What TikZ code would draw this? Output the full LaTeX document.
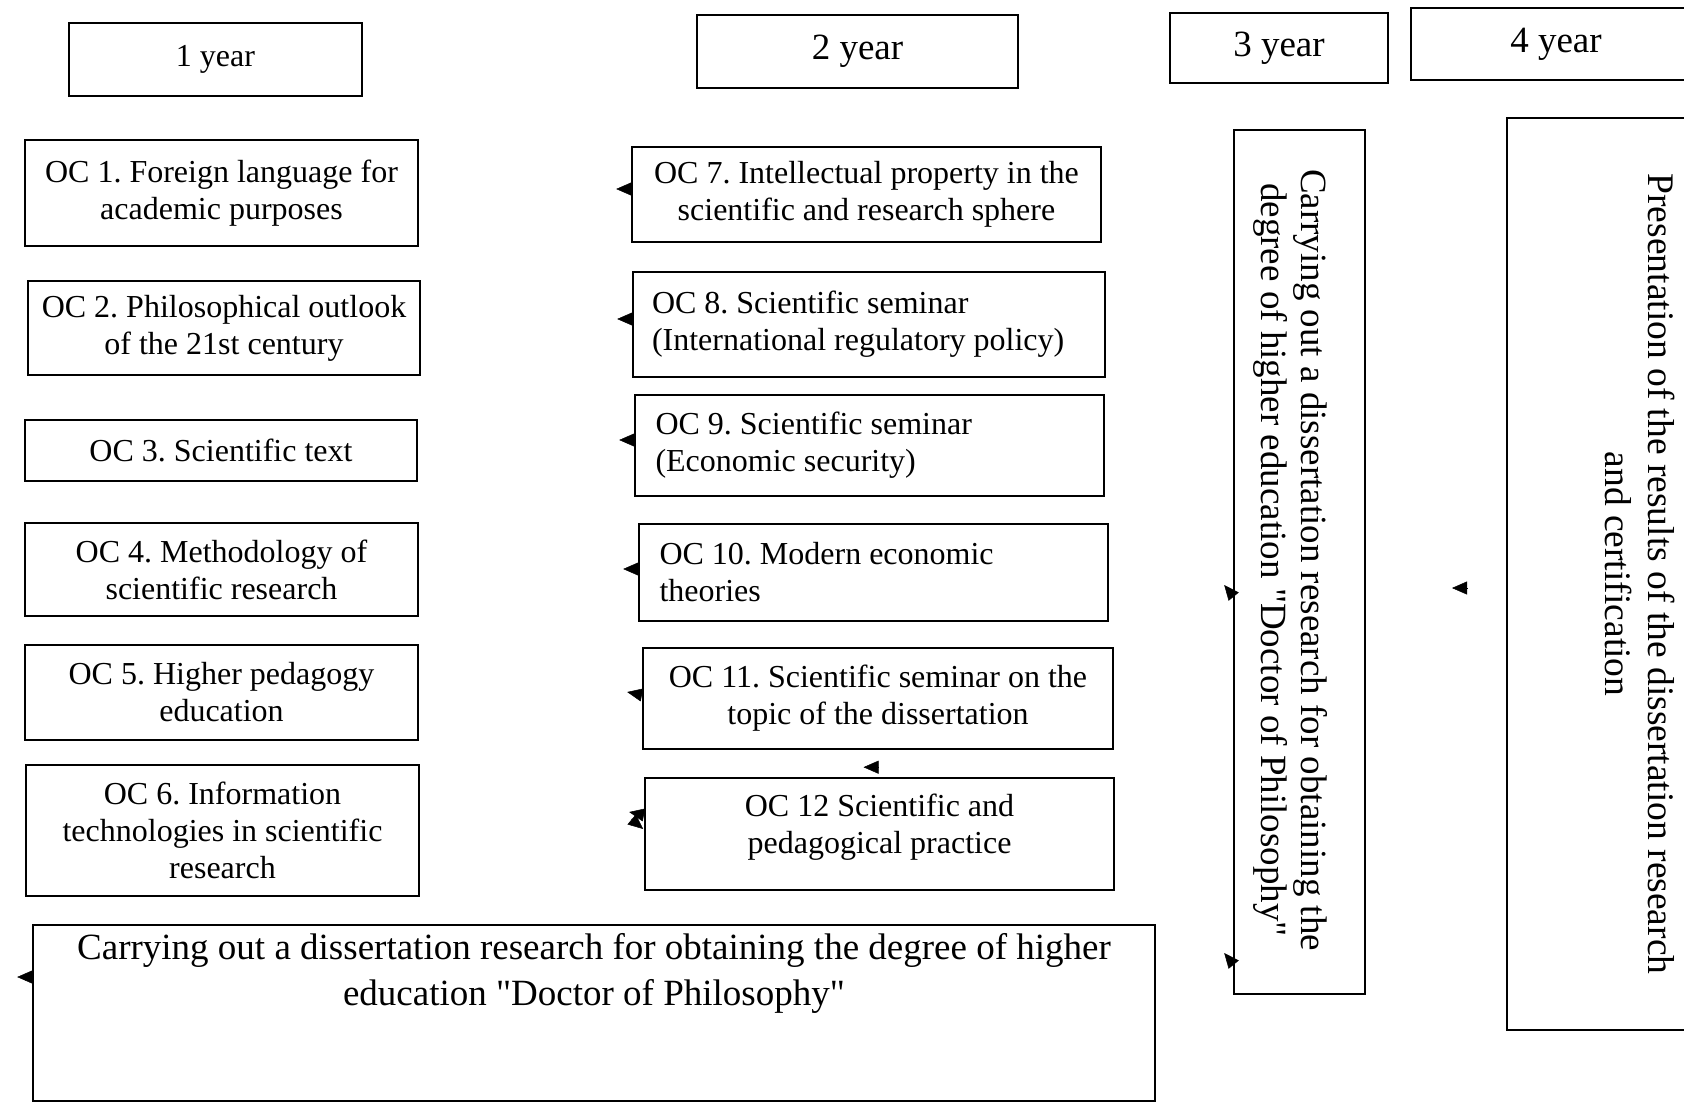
\documentclass[tikz,border=0pt]{standalone}
\usepackage{fontspec}
\setmainfont{Liberation Serif}
\usetikzlibrary{arrows.meta,calc}
\begin{document}
\frenchspacing
\begin{tikzpicture}[x=1pt,y=-1pt,
  box/.style={draw, line width=1.6pt, inner sep=2pt, align=center},
  octxt/.style={font=\fontsize{32}{37}\selectfont},
  yeartxt/.style={font=\fontsize{37}{42}\selectfont},
  tipmark/.style={-{Triangle[length=15pt,width=13pt]}, line width=0.5pt}]
\useasboundingbox (0,0) rectangle (1684,1106);
\clip (0,0) rectangle (1684,1106);
% year headers
\node[box, minimum width=293, minimum height=73, font=\fontsize{32}{38}\selectfont] (y1) at (215.5,59.5) {1 year};
\node[box, yeartxt, minimum width=321, minimum height=73] (y2) at (857.5,51.5) {2 year};
\node[box, yeartxt, minimum width=218, minimum height=70] (y3) at (1279,48) {3 year};
\node[box, yeartxt, minimum width=290, minimum height=72] (y4) at (1556,44) {4 year};
% first year
\node[box, octxt, minimum width=393, minimum height=106] (oc1) at (221.5,193) {OC 1. Foreign language for\\academic purposes};
\node[box, octxt, minimum width=392, minimum height=94] (oc2) at (224,328) {OC 2. Philosophical outlook\\of the 21st century};
\node[box, octxt, minimum width=392, minimum height=61] (oc3) at (221,450.5) {OC 3. Scientific text};
\node[box, octxt, minimum width=393, minimum height=93] (oc4) at (221.5,569.5) {OC 4. Methodology of\\scientific research};
\node[box, octxt, minimum width=393, minimum height=95] (oc5) at (221.5,692.5) {OC 5. Higher pedagogy\\education};
\node[box, octxt, minimum width=393, minimum height=131] (oc6) at (222.5,830.5) {OC 6. Information\\technologies in scientific\\research};
% second year
\node[box, octxt, minimum width=469, minimum height=95] (oc7) at (866.5,194.5) {OC 7. Intellectual property in the\\scientific and research sphere};
\node[box, octxt, minimum width=472, minimum height=105, text width=434, align=flush left] (oc8) at (869,324.5) {OC 8. Scientific seminar\\(International regulatory policy)};
\node[box, octxt, minimum width=469, minimum height=101, text width=428, align=flush left] (oc9) at (869.5,445.5) {OC 9. Scientific seminar\\(Economic security)};
\node[box, octxt, minimum width=469, minimum height=97, text width=428, align=flush left] (oc10) at (873.5,572.5) {OC 10. Modern economic\\theories};
\node[box, octxt, minimum width=470, minimum height=101] (oc11) at (878,698.5) {OC 11. Scientific seminar on the\\topic of the dissertation};
\node[box, octxt, minimum width=469, minimum height=112] (oc12) at (879.5,834) {OC 12 Scientific and\\pedagogical practice\\[-16pt]\mbox{}};
% dissertation across years 1-2
\node[box, minimum width=1122, minimum height=176] (diss) at (594,1013) {};
\node[align=center, font=\fontsize{37}{46}\selectfont] (disstext) at (594,973) {Carrying out a dissertation research for obtaining the degree of higher\\education \textquotedbl Doctor of Philosophy\textquotedbl};
% year 3 vertical box
\node[box, minimum width=131, minimum height=864] (diss3) at (1299.5,562) {};
\node[rotate=-90, align=center, font=\fontsize{37}{40}\selectfont] (diss3text) at (1291,560) {Carrying out a dissertation research for obtaining the\\degree of higher education \textquotedbl Doctor of Philosophy\textquotedbl};
% year 4 vertical box
\node[box, minimum width=262, minimum height=912] (pres) at (1638,574) {};
\node[rotate=-90, align=center, font=\fontsize{37.5}{43}\selectfont] (prestext) at (1640,574) {Presentation of the results of the dissertation research\\and certification};
% loose arrow tips
\coordinate (free) at (1467,588);
\draw[tipmark] (oc7.west |- 0,189) -- ++(-15,0);
\draw[tipmark] (oc8.west |- 0,319) -- ++(-15,0);
\draw[tipmark] (oc9.west |- 0,440) -- ++(-15,0);
\draw[tipmark] (oc10.west |- 0,569) -- ++(-15,0);
\draw[tipmark] (oc11.west |- 0,695) -- ++(-15,-3);
\draw[tipmark] ($(oc12.north)+(-1,-10)$) -- ++(-15,0);
\draw[tipmark] (oc12.west |- 0,815) -- ++(-15,-3);
\draw[tipmark] ($(oc12.west |- 0,823)+(-13,-4)$) -- ++(12,10);
\draw[tipmark] (diss.west |- 0,977) -- ++(-15,0);
\draw[tipmark] (diss3.west |- 0,596) -- ++(-9,-11);
\draw[tipmark] (diss3.west |- 0,964) -- ++(-9,-11);
\draw[tipmark] (free) -- ++(-15,0);
\end{tikzpicture}
\end{document}
